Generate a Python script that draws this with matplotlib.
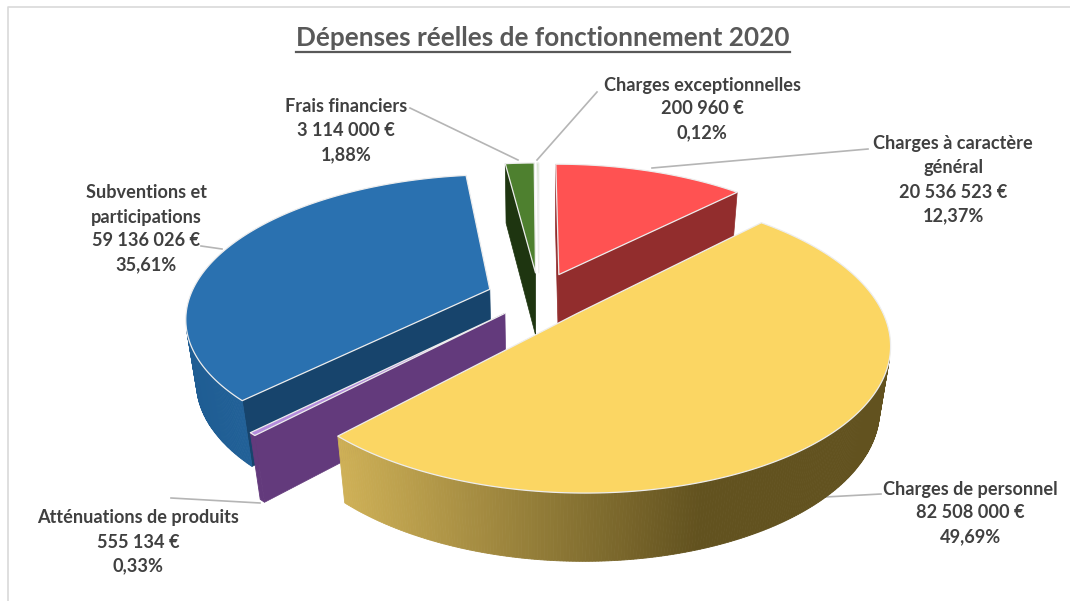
# coding: utf-8
"""Exploded 3D-look pie of the 2020 operating expenses, saved to out.png."""
import matplotlib

matplotlib.use("Agg")
import matplotlib.pyplot as plt
import numpy as np
from matplotlib.colors import to_rgb
from matplotlib.patches import Polygon

# ----- Data (clockwise from 12 o'clock) -----
labels = [
    "Charges à caractère\ngénéral",
    "Charges de personnel",
    "Atténuations de produits",
    "Subventions et\nparticipations",
    "Frais financiers",
    "Charges exceptionnelles",
]
values = [20536523, 82508000, 555134, 59136026, 3114000, 200960]

top_colors = ["#FF5252", "#FBD663", "#B58CDC", "#2A71B0", "#4E802F", "#BBDDA3"]
wall_colors = ["#922D2D", "#C9AB50", "#633A7C", "#17446C", "#1E3510", "#6E8F5A"]
rim_near = ["#922D2D", "#CFB157", "#7A52A0", "#1F5D93", "#2F4F1C", "#6E8F5A"]
rim_far = ["#922D2D", "#62521F", "#633A7C", "#2568A1", "#2F4F1C", "#6E8F5A"]
explode = [0.18, 0.17, 0.16, 0.175, 0.18, 0.18]

# label centre x, first line y, leader line
label_x = [953, 970, 138, 146, 346, 702]
label_y = [144, 489, 518, 193, 107, 85]
leader_x = [(652, 868), (825, 881), (171, 260), (201, 222), (518, 410), (537, 597)]
leader_y = [(168, 149), (497, 494), (498, 503), (246, 249), (160, 108), (160, 92)]

# ----- Projection parameters -----
CX, CY = 539.0, 297.0
A, B = 300.0, 138.7
PERSP = 0.187
TEXT = "#404040"


def project(px, py, z=0.0):
    """Plan coordinates (py points away from the viewer) to pixels."""
    s = 1.0 / (1.0 + PERSP * py)
    sx = 1.0 / (1.0 / s + 0.03 * z)
    return CX + A * px * sx, CY - B * py * s + (43.0 + 20.0 * s) * z


def shoelace(pts):
    pts = np.asarray(pts)
    x, y = pts[:, 0], pts[:, 1]
    return np.sum(x * np.roll(y, -1) - np.roll(x, -1) * y)


def draw_slice(ax, th0, th1, i, zorder):
    mid = 0.5 * (th0 + th1)
    ox, oy = explode[i] * np.sin(mid), explode[i] * np.cos(mid)
    th = np.linspace(th0, th1, max(int(np.degrees(th1 - th0) * 2), 2))
    rx, ry = ox + np.sin(th), oy + np.cos(th)

    apex_t, apex_b = project(ox, oy), project(ox, oy, 1.0)
    top = np.column_stack(project(rx, ry))
    bot = np.column_stack(project(rx, ry, 1.0))

    # cut faces, only those turned to the viewer
    start = [apex_t, top[0], bot[0], apex_b]
    if shoelace(start) < -400:
        ax.add_patch(Polygon(start, fc=wall_colors[i], ec=wall_colors[i], lw=0.5, zorder=zorder))
    end = [apex_t, top[-1], bot[-1], apex_b]
    if shoelace(end) > 400:
        ax.add_patch(Polygon(end, fc=wall_colors[i], ec=wall_colors[i], lw=0.5, zorder=zorder))

    # outer rim, shaded across the width of the pie
    near, far = np.array(to_rgb(rim_near[i])), np.array(to_rgb(rim_far[i]))
    x0, x1 = top[:, 0].min(), top[:, 0].max()
    for k in range(len(th) - 1):
        quad = [top[k], top[k + 1], bot[k + 1], bot[k]]
        if shoelace(quad) < 0:
            t = np.clip((top[k, 0] - x0) / max(0.66 * (x1 - x0), 1.0), 0, 1)
            col = near + (far - near) * t
            ax.add_patch(Polygon(quad, fc=col, ec=col, lw=0.6, zorder=zorder + 0.1))

    outline = np.vstack([apex_t, top])
    ax.add_patch(Polygon(outline, fc=top_colors[i], ec="#EDEDED", lw=0.9,
                         joinstyle="round", zorder=zorder + 0.2))


def main() -> None:
    fig = plt.figure(figsize=(10.7, 6.01), dpi=100)
    ax = fig.add_axes([0, 0, 1, 1])
    ax.set_xlim(0, 1070)
    ax.set_ylim(601, 0)
    ax.axis("off")

    plt.rcParams["font.family"] = ["Lato", "DejaVu Sans"]

    # frame of the chart area, open on the right and at the bottom
    ax.plot([7.5, 7.5, 1070], [601, 6.5, 6.5], color="#D9D9D9", lw=1.2)

    total = sum(values)
    edges = np.concatenate([[0.0], np.cumsum(values)]) / total * 2 * np.pi

    # back slices first, the big front slice last
    order = [0, 5, 4, 3, 2, 1]
    for i in order:
        draw_slice(ax, edges[i], edges[i + 1], i, 3 + order.index(i))

    for i, name in enumerate(labels):
        ax.plot(leader_x[i], leader_y[i], color="#B5B5B5", lw=1.2, zorder=2.5)
        amount = f"{values[i]:,}".replace(",", " ") + " €"
        share = f"{values[i] / total * 100:.2f}".replace(".", ",") + "%"
        for k, line in enumerate(name.split("\n") + [amount, share]):
            ax.text(label_x[i], label_y[i] + 24 * k, line, ha="center", va="center",
                    fontsize=13.1, fontweight="bold", color=TEXT, zorder=20)

    title = ax.text(543, 38, "Dépenses réelles de fonctionnement 2020", ha="center",
                    va="center", fontsize=18.8, fontweight="bold", color="#595959")
    fig.canvas.draw()
    box = title.get_window_extent().transformed(ax.transData.inverted())
    ax.plot([box.x0, box.x1], [51.5, 51.5], color="#595959", lw=1.6)

    fig.savefig("out.png", dpi=100)


if __name__ == "__main__":
    main()
